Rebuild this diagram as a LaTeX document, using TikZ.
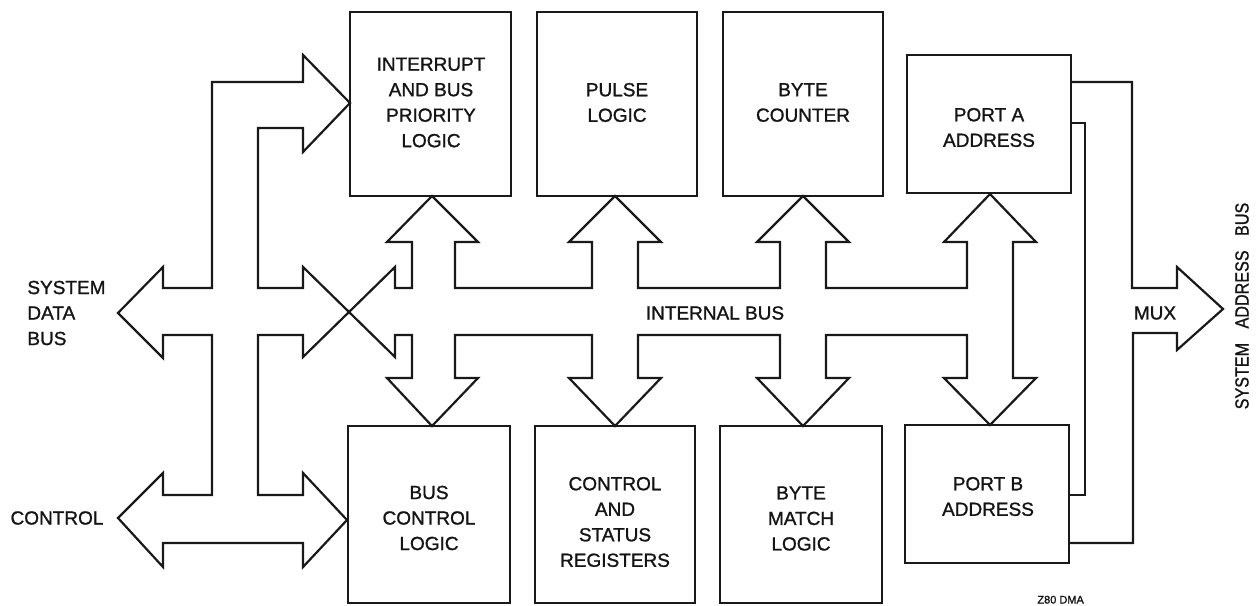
\documentclass[tikz,border=0pt]{standalone}
\usepackage{fontspec}
\setmainfont{Liberation Sans}
\newfontfamily\dmaface{Liberation Sans}[FakeBold=1.2]
\usetikzlibrary{fit}
\newcommand\dmafont{\dmaface\fontsize{9.5pt}{12.75pt}\selectfont}
\begin{document}
\begin{tikzpicture}[x=0.5pt,y=-0.5pt,
  outline/.style={draw=black!90, line width=1.1pt, line join=miter},
  box/.style={outline, inner sep=0pt},
  lbl/.style={font=\dmafont, text=black!92, align=center, inner sep=0pt}]
\useasboundingbox (0,0) rectangle (1257,605);
\clip (0,0) rectangle (1257,605);

% blocks, upper row
\node[box, fit={(350,12) (511,196)}] (intr) {};
\node[box, fit={(537,12) (697,196)}] (pulse) {};
\node[box, fit={(723,12) (883,196)}] (bcount) {};
\node[box, fit={(907,55) (1071,193)}] (porta) {};
% blocks, lower row
\node[box, fit={(348,426) (510,603)}] (busctl) {};
\node[box, fit={(535,426) (695,603)}] (ctlstat) {};
\node[box, fit={(720,426) (882,603)}] (bmatch) {};
\node[box, fit={(905,425) (1069,563)}] (portb) {};

% block texts
\node[lbl] (intr-t) at (431,102.5) {INTERRUPT\\AND BUS\\PRIORITY\\LOGIC};
\node[lbl] (pulse-t) at (617,102.5) {PULSE\\LOGIC};
\node[lbl] (bcount-t) at (803,102.5) {BYTE\\COUNTER};
\node[lbl] (porta-t) at (989,127.5) {PORT A\\ADDRESS};
\node[lbl] (busctl-t) at (429,518) {BUS\\CONTROL\\LOGIC};
\node[lbl] (ctlstat-t) at (615,522) {CONTROL\\AND\\STATUS\\REGISTERS};
\node[lbl] (bmatch-t) at (801,518.5) {BYTE\\MATCH\\LOGIC};
\node[lbl] (portb-t) at (988,496.5) {PORT B\\ADDRESS};

% the bus outline (system data bus, control, internal bus)
\draw[outline] (118,313) -- (163,267) -- (163,288) -- (212,288) -- (212,82)
  -- (303,82) -- (303,55) -- (350,103) -- (303,152) -- (303,128) -- (258,128)
  -- (258,288) -- (303,288) -- (303,267) -- (395,357) -- (395,335) -- (412,335)
  -- (412,378) -- (387,378) -- (432,426) -- (478,378) -- (455,378) -- (455,335)
  -- (592,335) -- (592,378) -- (569,378) -- (615,426) -- (661,378) -- (638,378)
  -- (638,335) -- (780,335) -- (780,378) -- (757,378) -- (803,426) -- (849,378)
  -- (826,378) -- (826,335) -- (967,335) -- (967,378) -- (944,378) -- (990,425)
  -- (1036,378) -- (1013,378) -- (1013,242) -- (1036,242) -- (990,194)
  -- (944,242) -- (967,242) -- (967,288) -- (826,288) -- (826,242) -- (849,242)
  -- (803,196) -- (757,242) -- (780,242) -- (780,288) -- (638,288) -- (638,242)
  -- (661,242) -- (615,196) -- (569,242) -- (592,242) -- (592,288) -- (455,288)
  -- (455,242) -- (478,242) -- (432,196) -- (387,242) -- (412,242) -- (412,288)
  -- (395,288) -- (395,267) -- (303,357) -- (303,335) -- (258,335) -- (258,495)
  -- (303,495) -- (303,473) -- (347,520) -- (303,567) -- (303,543) -- (163,543)
  -- (163,567) -- (118,518) -- (163,473) -- (163,495) -- (212,495) -- (212,335)
  -- (163,335) -- (163,358) -- cycle;

% multiplexer to the system address bus
\draw[outline] (1071,82) -- (1132,82) -- (1132,288) -- (1177,288) -- (1177,267)
  -- (1223,309) -- (1177,350) -- (1177,333) -- (1133,333) -- (1133,543) -- (1069,543);
\draw[outline] (1071,123) -- (1085,123) -- (1085,495) -- (1069,495);

% labels
\node[lbl, align=left, anchor=west] (sdb) at (27,313) {SYSTEM\\DATA\\BUS};
\node[lbl] (ctl) at (57,518) {CONTROL};
\node[lbl] (ibus) at (715,313) {INTERNAL BUS};
\node[lbl] (mux) at (1155,313) {MUX};
\node[lbl, rotate=90] (sab) at (1242,306) {\scalebox{0.85}[1]{SYSTEM\hspace{8.5pt}ADDRESS\hspace{8.5pt}BUS}};
\node[lbl, anchor=south west, font=\dmaface\fontsize{5.5pt}{6.5pt}\selectfont] (fig) at (1037,604) {Z80 DMA};
\end{tikzpicture}
\end{document}
